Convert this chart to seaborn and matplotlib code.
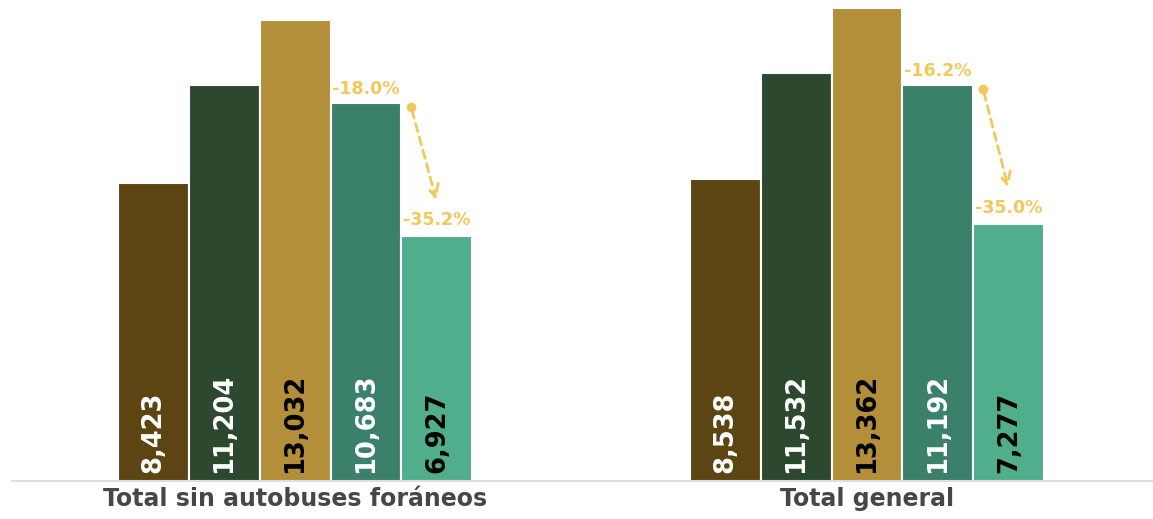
import numpy as np
import pandas as pd
import matplotlib
matplotlib.use('Agg')
import matplotlib.pyplot as plt
import seaborn as sns

# ------- data -------- #
grupos = ['Total sin autobuses foráneos', 'Total general']
periodos = ['P1', 'P2', 'P3', 'P4', 'P5']
valores_sin = [8423, 11204, 13032, 10683, 6927]
valores_gen = [8538, 11532, 13362, 11192, 7277]
var_p4 = ['-18.0%', '-16.2%']
var_p5 = ['-35.2%', '-35.0%']

colores = ['#5c4513', '#2c4930', '#b28f38', '#3a806a', '#50ae8c']
color_txt = ['white', 'white', 'black', 'white', 'black']
amarillo = '#f2c85b'

df = pd.DataFrame({
    'grupo': np.repeat(grupos, len(periodos)),
    'periodo': periodos * len(grupos),
    'valor': valores_sin + valores_gen,
})

sns.set_style('white')
plt.rcParams['font.family'] = ['DejaVu Sans']

fig = plt.figure(figsize=(11.53, 5.19), dpi=100)
ax = fig.add_axes([12 / 1153, 38 / 519, 1 - 12 / 1153, 481 / 519])

sns.barplot(data=df, x='grupo', y='valor', hue='periodo', palette=colores, saturation=1,
            width=0.62, edgecolor='white', linewidth=1.5, legend=False, ax=ax)

ax.set_xlim(-0.495, 1.5)
ax.set_ylim(0, 13600)

# value labels inside bars
for i, cont in enumerate(ax.containers):
    for bar in cont:
        xc = bar.get_x() + bar.get_width() / 2
        ax.text(xc, 230, f'{int(bar.get_height()):,}', rotation=90, ha='center', va='bottom',
                fontsize=18.5, fontweight='bold', color=color_txt[i])

# variations and arrows
for g in range(len(grupos)):
    b4 = ax.containers[3][g]
    b5 = ax.containers[4][g]
    x4 = b4.get_x() + b4.get_width() / 2
    x5 = b5.get_x() + b5.get_width() / 2
    h4 = b4.get_height()
    h5 = b5.get_height()
    ax.text(x4, h4 + 150, var_p4[g], ha='center', va='bottom', fontsize=12.5,
            fontweight='bold', color=amarillo)
    ax.text(x5, h5 + 200, var_p5[g], ha='center', va='bottom', fontsize=12.5,
            fontweight='bold', color=amarillo)
    x0 = b4.get_x() + b4.get_width() + 0.017
    y0 = h4 - 120
    ax.plot(x0, y0, 'o', color=amarillo, markersize=6)
    ax.annotate('', xy=(x5, h5 + 950), xytext=(x0, y0),
                arrowprops=dict(arrowstyle='->', color=amarillo, lw=2,
                                linestyle=(0, (3, 2)), mutation_scale=22))

ax.set_xlabel('')
ax.set_ylabel('')
ax.set_yticks([])
ax.tick_params(axis='x', length=0, pad=4)
for lab in ax.get_xticklabels():
    lab.set_fontsize(17)
    lab.set_fontweight('bold')
    lab.set_color('#474747')
for s in ['top', 'right', 'left']:
    ax.spines[s].set_visible(False)
ax.spines['bottom'].set_color('#d9d9d9')
ax.spines['bottom'].set_linewidth(1.2)

fig.savefig('out.png', dpi=100)
